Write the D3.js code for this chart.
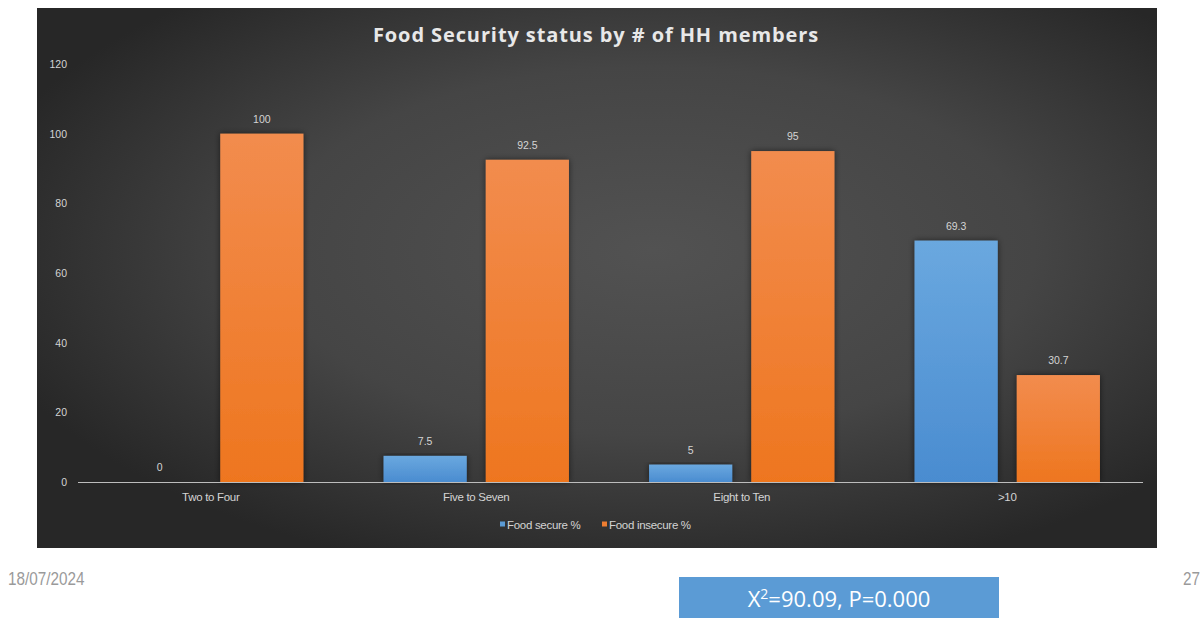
<!DOCTYPE html>
<html>
<head>
<meta charset="utf-8">
<script src="https://cdn.jsdelivr.net/npm/d3@7"></script>
<style>
  html, body { margin: 0; padding: 0; background: #ffffff; }
  svg { display: block; }
</style>
</head>
<body>
<svg id="chart" width="1204" height="618"></svg>
<script>
// Household size groups and the share of food secure / insecure households in each
const categories = ["Two to Four", "Five to Seven", "Eight to Ten", ">10"];
const seriesNames = ["Food secure %", "Food insecure %"];
const foodSecure = [0, 7.5, 5, 69.3];
const foodInsecure = [100, 92.5, 95, 30.7];
const yTicks = [0, 20, 40, 60, 80, 100, 120];
const chartTitle = "Food Security status by # of HH members";
const footDate = "18/07/2024";
const footPage = "27";

const svg = d3.select("#chart");

const panel = { x: 37, y: 8, w: 1120, h: 540 };
const plot = { left: 78, right: 1140, top: 64, bottom: 482 };

const defs = svg.append("defs");

// dark panel with a soft lighter centre
const bgGrad = defs.append("radialGradient").attr("id", "bgGrad")
  .attr("cx", "55%").attr("cy", "45%").attr("r", "62%");
bgGrad.append("stop").attr("offset", "0%").attr("stop-color", "#525252");
bgGrad.append("stop").attr("offset", "55%").attr("stop-color", "#454545");
bgGrad.append("stop").attr("offset", "100%").attr("stop-color", "#272727");

const fills = [
  { id: "blueGrad", top: "#6aa8df", bottom: "#4a8cd0" },
  { id: "orangeGrad", top: "#f28c4e", bottom: "#ee761f" }
];
fills.forEach(f => {
  const g = defs.append("linearGradient").attr("id", f.id)
    .attr("x1", "0").attr("y1", "0").attr("x2", "0").attr("y2", "1");
  g.append("stop").attr("offset", "0%").attr("stop-color", f.top);
  g.append("stop").attr("offset", "100%").attr("stop-color", f.bottom);
});

const shadow = defs.append("filter").attr("id", "barShadow")
  .attr("x", "-20%").attr("y", "-10%").attr("width", "140%").attr("height", "120%");
shadow.append("feDropShadow").attr("dx", 0).attr("dy", 0).attr("stdDeviation", 3)
  .attr("flood-color", "#000").attr("flood-opacity", 0.55);

svg.append("rect")
  .attr("x", panel.x).attr("y", panel.y)
  .attr("width", panel.w).attr("height", panel.h)
  .attr("fill", "url(#bgGrad)");

// title
svg.append("text")
  .attr("x", 596).attr("y", 42)
  .attr("text-anchor", "middle")
  .attr("font-family", "'Open Sans', 'DejaVu Sans', sans-serif")
  .attr("font-weight", "bold")
  .attr("font-size", 20)
  .attr("letter-spacing", 0.9)
  .attr("fill", "#e8e8e8")
  .text(chartTitle);

// scales
const x0 = d3.scaleBand().domain(categories).range([plot.left, plot.right]).padding(0);
const x1 = d3.scaleBand().domain(seriesNames).range([0, x0.bandwidth()])
  .paddingInner(0.186).paddingOuter(0.392);
const y = d3.scaleLinear().domain([0, 120]).range([plot.bottom, plot.top]);

const labelFont = "'Liberation Sans', Arial, sans-serif";
const textGray = "#d4d4d4";

// y axis: labels only, no line
const yAxis = d3.axisLeft(y).tickValues(yTicks).tickSize(0).tickPadding(0);
const yG = svg.append("g").attr("transform", `translate(${67},0)`).call(yAxis);
yG.select(".domain").remove();
yG.selectAll("text")
  .attr("font-family", labelFont).attr("font-size", 10.5).attr("fill", textGray);

// x axis baseline and category labels
const xAxis = d3.axisBottom(x0).tickSize(0).tickPadding(11);
const xG = svg.append("g").attr("transform", `translate(0,${plot.bottom})`).call(xAxis);
xG.select(".domain").attr("stroke", "#bdbdbd").attr("stroke-width", 1.2)
  .attr("d", `M${plot.left},0.5H${plot.right + 3}`);
xG.selectAll("text")
  .attr("font-family", labelFont).attr("font-size", 11.5)
  .attr("letter-spacing", -0.3).attr("fill", textGray);

// bars
const rows = categories.map((c, i) => ({
  category: c,
  values: [
    { series: seriesNames[0], value: foodSecure[i], fill: "url(#blueGrad)" },
    { series: seriesNames[1], value: foodInsecure[i], fill: "url(#orangeGrad)" }
  ]
}));

const groups = svg.append("g").selectAll("g").data(rows).join("g")
  .attr("transform", d => `translate(${x0(d.category)},0)`);

groups.selectAll("rect").data(d => d.values.filter(v => v.value > 0)).join("rect")
  .attr("x", d => x1(d.series))
  .attr("y", d => y(d.value))
  .attr("width", x1.bandwidth())
  .attr("height", d => y(0) - y(d.value))
  .attr("fill", d => d.fill)
  .attr("filter", "url(#barShadow)");

groups.selectAll("text.val").data(d => d.values).join("text")
  .attr("class", "val")
  .attr("x", d => x1(d.series) + x1.bandwidth() / 2)
  .attr("y", d => y(d.value) - 11)
  .attr("text-anchor", "middle")
  .attr("font-family", labelFont).attr("font-size", 10.5)
  .attr("fill", textGray)
  .text(d => d.value);

// redraw baseline over bars
svg.append("line")
  .attr("x1", plot.left).attr("x2", plot.right + 3)
  .attr("y1", plot.bottom + 0.5).attr("y2", plot.bottom + 0.5)
  .attr("stroke", "#bdbdbd").attr("stroke-width", 1.2);

// legend
const legendColors = ["#5b9bd5", "#ed7d31"];
const legendX = [500, 602];
const legend = svg.append("g");
seriesNames.forEach((name, i) => {
  legend.append("rect")
    .attr("x", legendX[i]).attr("y", 521.5)
    .attr("width", 5).attr("height", 5)
    .attr("fill", legendColors[i]);
  legend.append("text")
    .attr("x", legendX[i] + 7).attr("y", 528.5)
    .attr("font-family", labelFont).attr("font-size", 11.5)
    .attr("letter-spacing", -0.3)
    .attr("fill", textGray)
    .text(name);
});

// footer: date and page number drawn in a condensed face
svg.append("text")
  .attr("transform", "translate(8,585) scale(0.85,1)")
  .attr("font-family", labelFont).attr("font-size", 18)
  .attr("fill", "#9a9a9a")
  .text(footDate);

svg.append("text")
  .attr("transform", "translate(1183,585) scale(0.85,1)")
  .attr("font-family", labelFont).attr("font-size", 18)
  .attr("fill", "#9a9a9a")
  .text(footPage);

svg.append("rect")
  .attr("x", 679).attr("y", 577)
  .attr("width", 320).attr("height", 41)
  .attr("fill", "#5b9bd5");

const stat = svg.append("text")
  .attr("x", 839).attr("y", 607)
  .attr("text-anchor", "middle")
  .attr("font-family", "'Open Sans', 'Noto Sans', sans-serif")
  .attr("font-size", 22)
  .attr("fill", "#ffffff");
stat.append("tspan").text("X");
stat.append("tspan").attr("font-size", 14).attr("dy", -8).text("2");
stat.append("tspan").attr("dy", 8).text("=90.09, P=0.000");
</script>
</body>
</html>
